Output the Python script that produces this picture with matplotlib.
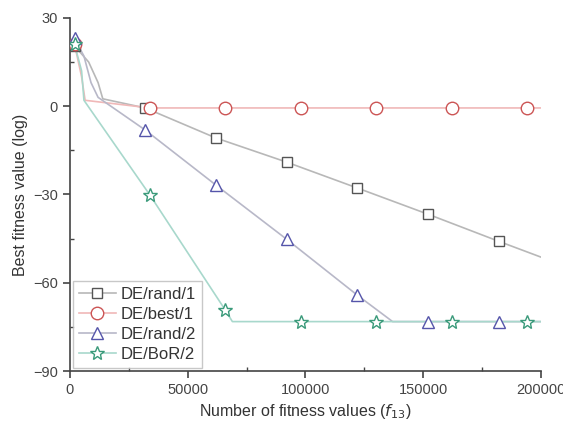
import matplotlib.pyplot as plt
from matplotlib.ticker import MultipleLocator

plt.rcParams['font.family'] = ['Liberation Sans', 'DejaVu Sans']

# DE/rand/1
x_rand1 = [2000, 8000, 12000, 14000, 32000, 62000, 92000, 122000, 152000, 182000, 200000]
y_rand1 = [20.5, 15, 8, 2.5, -0.6, -10.8, -19.0, -27.8, -36.7, -45.9, -51.3]
mx_rand1 = [2000, 32000, 62000, 92000, 122000, 152000, 182000]
my_rand1 = [20.5, -0.6, -10.8, -19.0, -27.8, -36.7, -45.9]

# DE/best/1
x_best1 = [2000, 5000, 6500, 34000, 66000, 98000, 130000, 162000, 194000, 203000]
y_best1 = [21, 10, 2, -0.6, -0.6, -0.6, -0.6, -0.6, -0.6, -0.6]
mx_best1 = [2000, 34000, 66000, 98000, 130000, 162000, 194000]
my_best1 = [21, -0.6, -0.6, -0.6, -0.6, -0.6, -0.6]

# DE/rand/2
x_rand2 = [2000, 6000, 9000, 12000, 32000, 62000, 92000, 122000, 137000, 152000, 182000, 200000]
y_rand2 = [23, 17, 8, 3, -8.1, -26.8, -45.2, -64.2, -73.2, -73.2, -73.2, -73.2]
mx_rand2 = [2000, 32000, 62000, 92000, 122000, 152000, 182000]
my_rand2 = [23, -8.1, -26.8, -45.2, -64.2, -73.2, -73.2]

# DE/BoR/2
x_bor2 = [2000, 5000, 6000, 34000, 66000, 69000, 98000, 130000, 162000, 194000, 200000]
y_bor2 = [21, 12, 2, -30.2, -69.3, -73.2, -73.2, -73.2, -73.2, -73.2, -73.2]
mx_bor2 = [2000, 34000, 66000, 98000, 130000, 162000, 194000]
my_bor2 = [21, -30.2, -69.3, -73.2, -73.2, -73.2, -73.2]

fig = plt.figure(figsize=(5.63, 4.26), dpi=100)
ax = fig.add_axes([0.124, 0.129, 0.837, 0.829])

series = [
    ("DE/rand/1", x_rand1, y_rand1, mx_rand1, my_rand1, "s", "#b8b8b8", "#555555", 7),
    ("DE/best/1", x_best1, y_best1, mx_best1, my_best1, "o", "#f0b8b8", "#cc5555", 9),
    ("DE/rand/2", x_rand2, y_rand2, mx_rand2, my_rand2, "^", "#b8b8c8", "#5555aa", 8.5),
    ("DE/BoR/2", x_bor2, y_bor2, mx_bor2, my_bor2, "*", "#a8d8cc", "#3a9a7a", 10),
]

for name, x, y, mx, my, m, lc, mc, ms in series:
    ax.plot(x, y, color=lc, lw=1.2, zorder=2)
    ax.plot(mx, my, ls="none", marker=m, ms=ms, mfc="white", mec=mc, mew=1.0, zorder=3)
    ax.plot([], [], color=lc, lw=1.2, marker=m, ms=ms, mfc="white", mec=mc, mew=1.0, label=name)

ax.set_xlim(0, 200000)
ax.set_ylim(-90, 30)
ax.xaxis.set_major_locator(MultipleLocator(50000))
ax.xaxis.set_minor_locator(MultipleLocator(25000))
ax.yaxis.set_major_locator(MultipleLocator(30))
ax.yaxis.set_minor_locator(MultipleLocator(15))
for s in ["top", "right"]:
    ax.spines[s].set_visible(False)
for s in ["left", "bottom"]:
    ax.spines[s].set_color("#444444")
    ax.spines[s].set_linewidth(1.2)
ax.tick_params(which="major", direction="out", length=5, width=1.2, colors="#444444", labelsize=10.5)
ax.tick_params(which="minor", direction="in", length=3, width=1.0, colors="#444444")

ax.set_xlabel("Number of fitness values ($f_{13}$)", fontsize=11.5, color="#333333")
ax.set_ylabel("Best fitness value (log)", fontsize=11.5, color="#333333")

leg = ax.legend(loc="lower left", fontsize=12, frameon=True, fancybox=False,
                edgecolor="#bbbbbb", borderaxespad=0.2, handlelength=2.2,
                handletextpad=0.3, labelspacing=0.3, borderpad=0.35)
for t in leg.get_texts():
    t.set_color("#333333")

fig.savefig("out.png", dpi=100)
